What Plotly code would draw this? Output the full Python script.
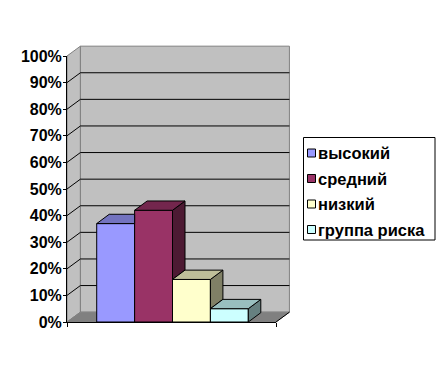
import plotly.graph_objects as go

# ---------------- data ----------------
categories = ["высокий", "средний", "низкий", "группа риска"]
values = [0.37, 0.42, 0.16, 0.05]
tick_values = [0, 0.1, 0.2, 0.3, 0.4, 0.5, 0.6, 0.7, 0.8, 0.9, 1.0]
tick_labels = ["0%", "10%", "20%", "30%", "40%", "50%", "60%", "70%", "80%", "90%", "100%"]

# ---------------- styles ----------------
FRONT = ["#9999FF", "#993366", "#FFFFCC", "#CCFFFF"]
TOP = ["#7373BF", "#73264D", "#BFBF99", "#99BFBF"]
SIDE = ["#4D4D80", "#4D1A33", "#808066", "#668080"]
WALL = "#C0C0C0"
WALL_EDGE = "#808080"
FLOOR = "#808080"
FONT = "Liberation Sans, Arial, sans-serif"

OFF = 8  # page body margin
FIG_W, FIG_H = 440, 372
M_L, M_R, M_T, M_B = 59, 172, 48, 58
PLOT_W = FIG_W - M_L - M_R
PLOT_H = FIG_H - M_T - M_B
X_LO, X_HI = -1.284, 4.231
Y_LO, Y_HI = 0.0, 1.0
WALL_DX, WALL_DY = 0.354, 0.037
BAR_DX, BAR_DY = 0.33, 0.035
BAR_WIDTH = 1.0


def to_paper(x, y):
    return (x - X_LO) / (X_HI - X_LO), (y - Y_LO) / (Y_HI - Y_LO)


def px_paper(px, py):
    return (px - OFF - M_L) / PLOT_W, (FIG_H - M_B - (py - OFF)) / PLOT_H


def path(points):
    pts = [to_paper(x, y) for x, y in points]
    return "M" + " L".join(f"{a:.5f},{b:.5f}" for a, b in pts) + " Z"


def open_path(points):
    pts = [to_paper(x, y) for x, y in points]
    return "M" + " L".join(f"{a:.5f},{b:.5f}" for a, b in pts)


fig = go.Figure()

positions = list(range(len(values)))

# front faces of the columns
fig.add_trace(go.Bar(
    x=positions, y=values, width=BAR_WIDTH,
    marker=dict(color=FRONT, line=dict(color="black", width=1)),
    showlegend=False, hoverinfo="skip",
))

# top and side faces (drawn left to right, clipped where the next column hides them)
for i, h in enumerate(values):
    xl = positions[i] - BAR_WIDTH / 2
    xr = positions[i] + BAR_WIDTH / 2
    h_next = values[i + 1] if i + 1 < len(values) else None
    if h_next is not None and h_next > h:
        top_pts = [(xl, h), (xr, h), (xr, h + BAR_DY), (xl + BAR_DX, h + BAR_DY), (xl, h)]
        side_pts = None
    else:
        top_pts = [(xl, h), (xr, h), (xr + BAR_DX, h + BAR_DY), (xl + BAR_DX, h + BAR_DY), (xl, h)]
        low = h_next if h_next is not None else 0.0
        side_pts = [(xr, low), (xr + BAR_DX, low + BAR_DY), (xr + BAR_DX, h + BAR_DY), (xr, h), (xr, low)]
    if side_pts:
        fig.add_trace(go.Scatter(
            x=[p[0] for p in side_pts], y=[p[1] for p in side_pts],
            mode="lines", fill="toself", fillcolor=SIDE[i],
            line=dict(color="black", width=1), showlegend=False, hoverinfo="skip",
        ))
    fig.add_trace(go.Scatter(
        x=[p[0] for p in top_pts], y=[p[1] for p in top_pts],
        mode="lines", fill="toself", fillcolor=TOP[i],
        line=dict(color="black", width=1), showlegend=False, hoverinfo="skip",
    ))

shapes = []
# side wall
shapes.append(dict(type="path", xref="paper", yref="paper", layer="below",
                   path=path([(X_LO, 0), (X_LO, 1), (X_LO + WALL_DX, 1 + WALL_DY), (X_LO + WALL_DX, WALL_DY)]),
                   fillcolor=WALL, line=dict(color=WALL_EDGE, width=1)))
# back wall
shapes.append(dict(type="path", xref="paper", yref="paper", layer="below",
                   path=path([(X_LO + WALL_DX, WALL_DY), (X_LO + WALL_DX, 1 + WALL_DY),
                              (X_HI + WALL_DX, 1 + WALL_DY), (X_HI + WALL_DX, WALL_DY)]),
                   fillcolor=WALL, line=dict(color=WALL_EDGE, width=1)))
# gridlines on walls
for v in tick_values[1:-1]:
    shapes.append(dict(type="path", xref="paper", yref="paper", layer="below",
                       path=open_path([(X_LO, v), (X_LO + WALL_DX, v + WALL_DY), (X_HI + WALL_DX, v + WALL_DY)]),
                       line=dict(color="black", width=1)))
# floor
shapes.append(dict(type="path", xref="paper", yref="paper", layer="below",
                   path=path([(X_LO, 0), (X_HI, 0), (X_HI + WALL_DX, WALL_DY), (X_LO + WALL_DX, WALL_DY)]),
                   fillcolor=FLOOR, line=dict(color=FLOOR, width=1)))
shapes.append(dict(type="path", xref="paper", yref="paper", layer="below",
                   path=open_path([(X_HI, 0), (X_HI + WALL_DX, WALL_DY)]),
                   line=dict(color="black", width=1)))

# custom legend
annotations = []
bx0, by0 = px_paper(303.5, 240)
bx1, by1 = px_paper(435, 137.5)
shapes.append(dict(type="rect", xref="paper", yref="paper", x0=bx0, y0=by0, x1=bx1, y1=by1,
                   line=dict(color="black", width=1), fillcolor="white", layer="above"))
item_y = [153, 178.5, 204, 229.5]
for i, name in enumerate(categories):
    mx0, my0 = px_paper(307.5, item_y[i] + 4)
    mx1, my1 = px_paper(315.5, item_y[i] - 4)
    shapes.append(dict(type="rect", xref="paper", yref="paper", x0=mx0, y0=my0, x1=mx1, y1=my1,
                       line=dict(color="black", width=1), fillcolor=FRONT[i], layer="above"))
    tx, ty = px_paper(316, item_y[i])
    annotations.append(dict(x=tx, y=ty, xref="paper", yref="paper", text=name, showarrow=False,
                            xanchor="left", yanchor="middle",
                            font=dict(family=FONT, size=16.5, color="black", weight="bold")))

fig.update_layout(
    width=FIG_W, height=FIG_H,
    margin=dict(l=M_L, r=M_R, t=M_T, b=M_B, pad=0),
    paper_bgcolor="white", plot_bgcolor="rgba(0,0,0,0)",
    showlegend=False,
    shapes=shapes, annotations=annotations,
    xaxis=dict(range=[X_LO, X_HI], showgrid=False, zeroline=False, showline=True,
               linecolor="black", linewidth=1, tickvals=[X_LO, X_HI], ticktext=["", ""],
               ticks="outside", ticklen=4, tickcolor="black", fixedrange=True),
    yaxis=dict(range=[Y_LO, Y_HI], showgrid=False, zeroline=False, showline=True,
               linecolor="black", linewidth=1, tickvals=tick_values, ticktext=tick_labels,
               ticks="outside", ticklen=3, tickcolor="black", fixedrange=True,
               ticklabelstandoff=-2,
               tickfont=dict(family=FONT, size=16, color="black", weight="bold")),
    font=dict(family=FONT),
)

fig.write_html("out.html")
